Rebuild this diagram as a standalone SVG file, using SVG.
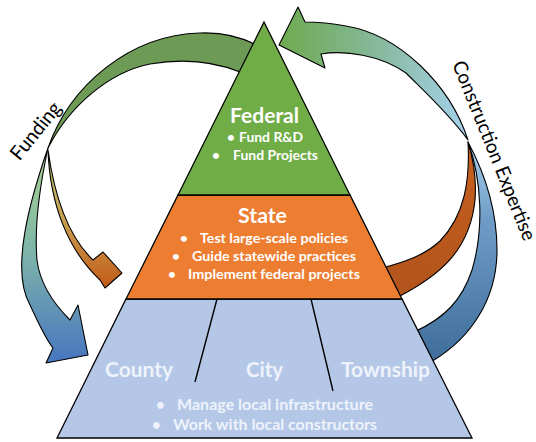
<svg xmlns="http://www.w3.org/2000/svg" width="536" height="442" viewBox="0 0 536 442">
<style>
  .edge { stroke: #000; stroke-width: 1.1; stroke-linejoin: round; }
  .layer { stroke: #000; stroke-width: 1.3; stroke-linejoin: miter; }
  .t { font-family: Lato, "Open Sans", "Liberation Sans", sans-serif; font-weight: bold; fill: #fff; }
  .h { font-size: 21px; }
  .b { font-size: 13.5px; }
  .lt { fill: #eef3fb; }
  .bb { font-size: 15px; }
  .lab { font-family: Lato, "Open Sans", "Liberation Sans", sans-serif; font-size: 20px; fill: #000; }
  .div { stroke: #000; stroke-width: 1.4; fill: none; }
</style>
<defs>
  <linearGradient id="gUp" gradientUnits="userSpaceOnUse" x1="280" y1="0" x2="470" y2="0">
    <stop offset="0" stop-color="#6eaa4f"/>
    <stop offset="0.5" stop-color="#86b89a"/>
    <stop offset="1" stop-color="#a6d2ee"/>
  </linearGradient>
  <linearGradient id="gCB" gradientUnits="userSpaceOnUse" x1="0" y1="142" x2="0" y2="360">
    <stop offset="0" stop-color="#a9d2ee"/>
    <stop offset="0.35" stop-color="#6f9dc8"/>
    <stop offset="1" stop-color="#3f6e9c"/>
  </linearGradient>
  <linearGradient id="gCO" gradientUnits="userSpaceOnUse" x1="0" y1="142" x2="0" y2="300">
    <stop offset="0" stop-color="#c8601f"/>
    <stop offset="1" stop-color="#b0531c"/>
  </linearGradient>
  <linearGradient id="gFB" gradientUnits="userSpaceOnUse" x1="0" y1="148" x2="0" y2="365">
    <stop offset="0" stop-color="#a9d18e"/>
    <stop offset="0.45" stop-color="#80b8a8"/>
    <stop offset="1" stop-color="#4774c0"/>
  </linearGradient>
  <linearGradient id="gFO" gradientUnits="userSpaceOnUse" x1="0" y1="150" x2="0" y2="289">
    <stop offset="0" stop-color="#b9c873"/>
    <stop offset="0.5" stop-color="#c8a050"/>
    <stop offset="1" stop-color="#c25a18"/>
  </linearGradient>
</defs>

<g id="connectors">
  <!-- Funding: top band -->
  <path class="edge" fill="#6d9a55" d="M48,148 C70,85 130,35 200,33 C225,32 245,38 262,48 L250,78 L240,72 C215,62 185,58 150,64 C110,72 70,105 48,148 Z"/>
  <!-- Funding: to county/city/township -->
  <path class="edge" fill="url(#gFB)" d="M48,148 C30,200 10,270 30,305 C38,322 45,338 53,348 L46,363 L88,355 L78,305 L70,320 C55,305 40,285 37,260 C34,225 40,185 48,148 Z"/>
  <!-- Funding: to state -->
  <path class="edge" fill="url(#gFO)" d="M48,150 C50,205 68,250 100,280 L105,288 L122,273 L103,252 L93,260 C70,238 55,200 48,150 Z"/>
  <!-- Construction expertise: from state -->
  <path class="edge" fill="url(#gCO)" d="M393,296 L400,296 C440,275 470,250 475,200 C477,175 472,155 468,142 C470,180 465,215 440,241 C425,255 405,262 382,268 Z"/>
  <!-- Construction expertise: from local -->
  <path class="edge" fill="url(#gCB)" d="M428,362 L434,360 C470,338 497,300 497,250 C497,205 483,170 468,142 C482,180 484,230 472,270 C462,300 445,318 414,332 Z"/>
  <!-- Construction expertise: to federal -->
  <path class="edge" fill="url(#gUp)" d="M468,140 C450,85 400,35 346,26 C330,23 318,22 305,22 L298,7 L279,45 L325,68 L321,54 C345,50 380,55 406,73 C425,92 450,115 468,140 Z"/>
  <text class="lab" transform="translate(41,135) rotate(-51)" text-anchor="middle" textLength="68" lengthAdjust="spacingAndGlyphs">Funding</text>
  <text class="lab" style="font-size:19.5px" transform="translate(488,153) rotate(68)" text-anchor="middle" textLength="192" lengthAdjust="spacingAndGlyphs">Construction Expertise</text>
</g>

<g id="local">
  <polygon class="layer" fill="#b4c7e7" points="126,299 402,299 472,438 57,438"/>
  <line class="div" x1="217" y1="299" x2="195" y2="382"/>
  <line class="div" x1="311" y1="299" x2="333" y2="391"/>
  <text class="t h lt" x="105" y="377" textLength="68" lengthAdjust="spacingAndGlyphs">County</text>
  <text class="t h lt" x="246" y="377" textLength="37" lengthAdjust="spacingAndGlyphs">City</text>
  <text class="t h lt" x="341" y="377" textLength="89" lengthAdjust="spacingAndGlyphs">Township</text>
  <text class="t bb lt" x="156" y="410">•</text>
  <text class="t bb lt" x="177" y="410" textLength="196" lengthAdjust="spacingAndGlyphs">Manage local infrastructure</text>
  <text class="t bb lt" x="152" y="430">•</text>
  <text class="t bb lt" x="173" y="430" textLength="204" lengthAdjust="spacingAndGlyphs">Work with local constructors</text>
</g>

<g id="state">
  <polygon class="layer" fill="#ed7d31" points="178,195 350,195 402,299 126,299"/>
  <text class="t h" x="262.5" y="223" text-anchor="middle" textLength="49" lengthAdjust="spacingAndGlyphs">State</text>
  <text class="t b" x="180" y="243">•</text>
  <text class="t b" x="200" y="243" textLength="148" lengthAdjust="spacingAndGlyphs">Test large-scale policies</text>
  <text class="t b" x="172" y="261">•</text>
  <text class="t b" x="192" y="261" textLength="164" lengthAdjust="spacingAndGlyphs">Guide statewide practices</text>
  <text class="t b" x="168" y="279">•</text>
  <text class="t b" x="188" y="279" textLength="172" lengthAdjust="spacingAndGlyphs">Implement federal projects</text>
</g>

<g id="federal">
  <polygon class="layer" fill="#70ad47" points="264,22 350,195 178,195"/>
  <text class="t h" x="264.5" y="123" text-anchor="middle" textLength="69" lengthAdjust="spacingAndGlyphs">Federal</text>
  <text class="t b" x="227" y="142">•</text>
  <text class="t b" x="239" y="142" textLength="64" lengthAdjust="spacingAndGlyphs">Fund R&amp;D</text>
  <text class="t b" x="212" y="160">•</text>
  <text class="t b" x="233" y="160" textLength="85" lengthAdjust="spacingAndGlyphs">Fund Projects</text>
</g>
</svg>
